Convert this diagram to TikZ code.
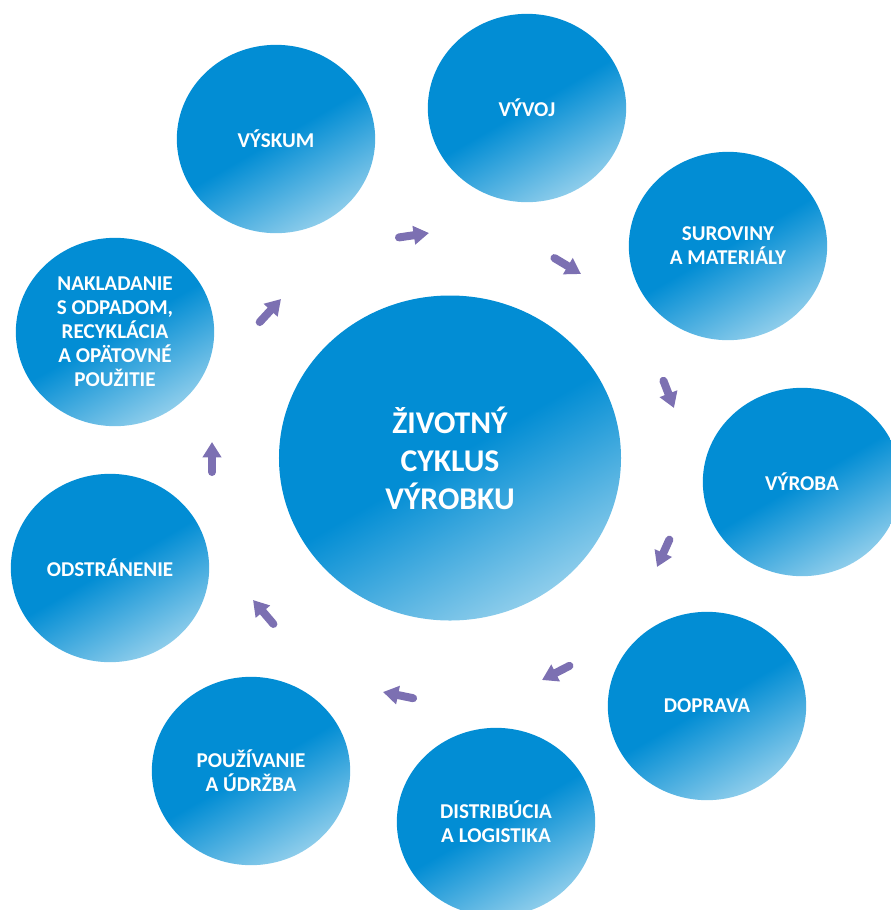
\documentclass[tikz,border=0pt]{standalone}
\usepackage{fontspec}
\setmainfont{Carlito}
\usepackage{tikz}
\usetikzlibrary{shapes.geometric,arrows.meta}
\definecolor{blobdark}{RGB}{2,141,212}
\definecolor{bloblight}{RGB}{142,205,235}
\definecolor{arrowpurple}{RGB}{124,112,178}
\tikzset{blue blob/.style={ellipse,inner sep=0pt,minimum width=5.95cm,minimum height=5.65cm,top color=blobdark,bottom color=bloblight,middle color=blobdark,shading angle=30,text=white,font=\fontsize{18}{20.5}\selectfont\bfseries,align=center}}
\tikzset{purple arrow/.style={draw=arrowpurple,line width=2.4mm,line cap=round,shorten <=1.2mm,-{Triangle[width=5.4mm,length=4.6mm]}}}

\begin{document}
\begin{tikzpicture}[x=0.03cm,y=-0.03cm]
        \useasboundingbox (0,0) rectangle (891,910);

        \node [blue blob,minimum width=10.26cm,minimum height=9.75cm,font=\fontsize{27}{32.4}\selectfont\bfseries] (cyklus) at (450,458) {ŽIVOTNÝ\\CYKLUS\\VÝROBKU};

        \foreach \name/\x/\y/\txt in {vyskum/276/139/{VÝSKUM}, vyvoj/527/108/{VÝVOJ}, suroviny/728/246/{SUROVINY\\A MATERIÁLY}, vyroba/802/482/{VÝROBA}, doprava/707/706/{DOPRAVA}, distribucia/496/822/{DISTRIBÚCIA\\A LOGISTIKA}, pouzivanie/251/771/{POUŽÍVANIE\\A ÚDRŽBA}, odstranenie/110/568/{ODSTRÁNENIE}, nakladanie/115/332/{NAKLADANIE\\S ODPADOM,\\RECYKLÁCIA\\A OPÄTOVNÉ\\POUŽITIE}}{
		 \node [blue blob] (\name) at (\x,\y) {\txt};
      	}

      	\foreach \i/\tx/\ty/\hx/\hy in {1/395/238/429/233, 2/551/256/581/274, 3/662/377/674/408, 4/671/536/657/567, 5/573/664/542/680, 6/417/699/383/692, 7/276/627/253/600, 8/212/476/212/442, 9/257/325/281/299}{
      		\coordinate (tail\i) at (\tx,\ty);
      		\coordinate (tip\i) at (\hx,\hy);
      		\draw [purple arrow] (tail\i) to (tip\i);
      	}
        \end{tikzpicture}
\end{document}
